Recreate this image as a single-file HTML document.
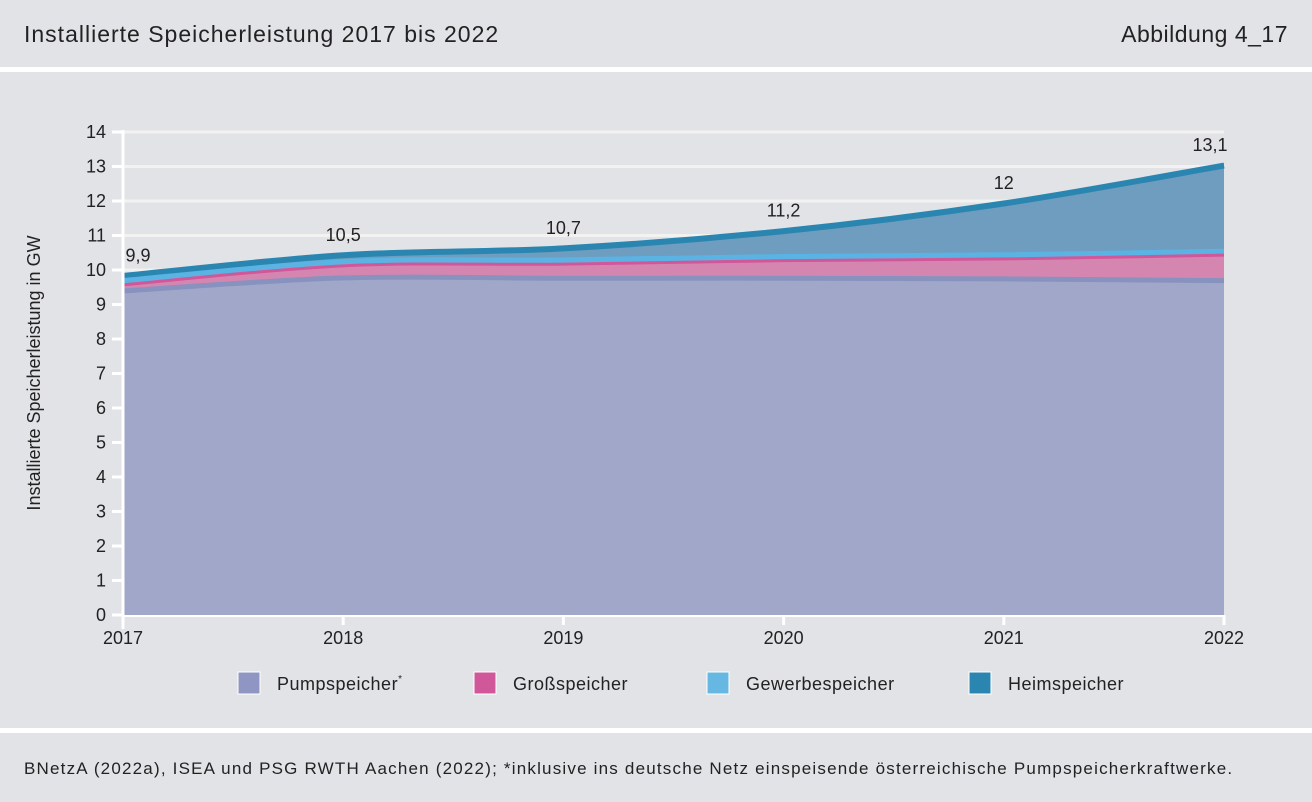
<!DOCTYPE html>
<html><head><meta charset="utf-8"><style>
body{margin:0;width:1312px;height:797px;background:#e2e3e7;font-family:"Liberation Sans",sans-serif;color:#222;overflow:hidden;position:relative}
.hd{position:absolute;left:0;top:0;width:1312px;height:67px;border-bottom:5px solid #fff}
.ft{position:absolute;left:0;top:728px;width:1312px;height:69px;border-top:5px solid #fff}
</style></head><body>
<div class="hd">
<div style="position:absolute;left:24px;top:21px;font-size:23px;letter-spacing:1px">Installierte Speicherleistung 2017 bis 2022</div>
<div style="position:absolute;right:24px;top:21px;font-size:23px;letter-spacing:0.5px">Abbildung 4_17</div>
</div>
<svg id="chart" width="1312" height="797" style="position:absolute;left:0;top:0" font-family="Liberation Sans, sans-serif"></svg>
<div class="ft">
<div style="position:absolute;left:24px;top:26px;font-size:17px;letter-spacing:1.2px;white-space:nowrap">BNetzA (2022a), ISEA und PSG RWTH Aachen (2022); *inklusive ins deutsche Netz einspeisende österreichische Pumpspeicherkraftwerke.</div>
</div>
<script>
const years=[2017,2018,2019,2020,2021,2022];
const pump=[9.45,9.83,9.82,9.82,9.8,9.75];
const gross=[0.15,0.32,0.38,0.48,0.55,0.71];
const gewerbe=[0.15,0.15,0.15,0.15,0.15,0.14];
const heim=[0.15,0.2,0.35,0.75,1.5,2.5];
const totalLabels=["9,9","10,5","10,7","11,2","12","13,1"];
const yTicks=[0,1,2,3,4,5,6,7,8,9,10,11,12,13,14];
const seriesNames=["Pumpspeicher","Großspeicher","Gewerbespeicher","Heimspeicher"];
const NS="http://www.w3.org/2000/svg";
const svg=document.getElementById('chart');
const X0=123,X1=1224,Y0=615,Y1=132;
const x=i=>X0+(X1-X0)*(years[i]-years[0])/(years[years.length-1]-years[0]);
const y=v=>Y0-(Y0-Y1)*v/14;
function mk(t,a,p){const e=document.createElementNS(NS,t);for(const k in a)e.setAttribute(k,a[k]);(p||svg).appendChild(e);return e;}
yTicks.forEach(t=>{
const g=mk('line',{x1:X0,x2:X1,y1:y(t),y2:y(t),stroke:'#f2f2f0','stroke-width':3});


const tk=mk('line',{x1:112,x2:X0,y1:y(t),y2:y(t),stroke:'#fff','stroke-width':3});


const l=mk('text',{x:106,y:y(t)+6,'text-anchor':'end','font-size':18,fill:'#222'});l.textContent=t;


});
function pts(arr){return arr.map((v,i)=>[x(i),y(v)]);}
function smooth(p){let d='M'+p[0][0]+','+p[0][1];for(let i=0;i<p.length-1;i++){const p0=p[i-1]||p[i],p1=p[i],p2=p[i+1],p3=p[i+2]||p2;
const c1=[p1[0]+(p2[0]-p0[0])/6,p1[1]+(p2[1]-p0[1])/6],c2=[p2[0]-(p3[0]-p1[0])/6,p2[1]-(p3[1]-p1[1])/6];
d+=`C${c1[0]},${c1[1]} ${c2[0]},${c2[1]} ${p2[0]},${p2[1]}`;}return d;}
const fills=['#a0a7c9','#d586b0','#66b8e2','#6e9dbf'],edges=['#8892bf','#d0579a','#5ab3e2','#2a86b0'];
const widths=[5,3,5,6];
const series=[pump,gross,gewerbe,heim];
let cum=years.map(()=>0);const tops=[];
series.forEach(s=>{cum=cum.map((c,i)=>c+s[i]);tops.push(cum.slice());});
for(let k=3;k>=0;k--){
const d=smooth(pts(tops[k]));
const a=mk('path',{d:d+`L${X1},${Y0}L${X0},${Y0}Z`,fill:fills[k]});


const e=mk('path',{d:d,fill:'none',stroke:edges[k],'stroke-width':widths[k],transform:'translate(0,'+(widths[k]/2-0.5)+')'});


}
const ax=mk('line',{x1:X0,x2:X0,y1:Y1-2,y2:Y0+14,stroke:'#fff','stroke-width':3});


const bx=mk('line',{x1:X0,x2:X1,y1:Y0+1,y2:Y0+1,stroke:'#fff','stroke-width':2});


years.forEach((yr,i)=>{
const t=mk('line',{x1:x(i),x2:x(i),y1:Y0,y2:Y0+10,stroke:'#fff','stroke-width':3});


const l=mk('text',{x:x(i),y:644,'text-anchor':'middle','font-size':18,fill:'#222'});l.textContent=yr;


const v=mk('text',{x:i==0?x(i)+15:(i==5?x(i)-14:x(i)),y:y(tops[3][i])-12,'text-anchor':'middle','font-size':18,fill:'#222'});v.textContent=totalLabels[i];


});
const yt=mk('text',{x:0,y:0,transform:'translate(40,373) rotate(-90)','text-anchor':'middle','font-size':18,fill:'#222'});yt.textContent='Installierte Speicherleistung in GW';


const lx=[238,474,707,969],lc=['#8f96c3','#d0579a','#66b8e2','#2a86b0'];
seriesNames.forEach((n,i)=>{
const g=mk('g',{});


mk('rect',{x:lx[i],y:672,width:22,height:22,fill:lc[i],stroke:'#fff','stroke-width':1},g);
const t=mk('text',{x:lx[i]+39,y:690,'font-size':18,fill:'#222','letter-spacing':0.5},g);t.textContent=n;
if(i==0){const s=mk('tspan',{dy:-8,'font-size':10},t);s.textContent='*';}
});
</script>
</body></html>
